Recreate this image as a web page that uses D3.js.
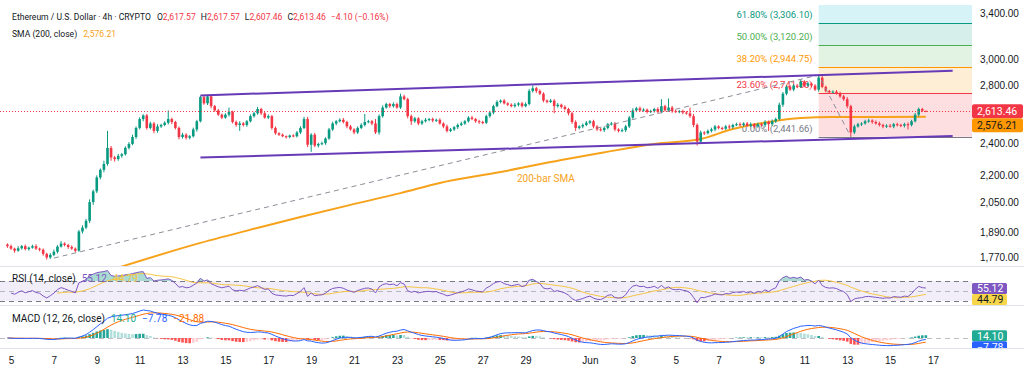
<!DOCTYPE html>
<html>
<head>
<meta charset="utf-8">
<script src="https://cdn.jsdelivr.net/npm/d3@7"></script>
<style>
html, body { margin: 0; padding: 0; background: #fff; }
svg { display: block; font-family: Roboto, "Noto Sans", sans-serif; }
</style>
</head>
<body>
<svg id="chart" width="1024" height="373"></svg>
<script>
// ---- data (4h bars, first bar 2025-05-04 20:00 UTC) ----
const firstOpen = 1830;
const closes = [
  1822, 1810, 1800, 1812, 1822, 1808, 1815, 1822, 1810, 1805,
  1785, 1768, 1780, 1795, 1820, 1835, 1828, 1818, 1810, 1800,
  1895, 1915, 1950, 2050, 2110, 2190, 2235, 2270, 2370, 2310,
  2300, 2320, 2330, 2370, 2395, 2440, 2500, 2560, 2585, 2500,
  2530, 2480, 2510, 2520, 2535, 2560, 2540, 2500, 2440, 2455,
  2435, 2445, 2490, 2545, 2715, 2670, 2720, 2650, 2620, 2590,
  2570, 2590, 2610, 2540, 2520, 2530, 2520, 2545, 2580, 2600,
  2630, 2600, 2570, 2580, 2500, 2465, 2455, 2445, 2440, 2450,
  2445, 2470, 2500, 2560, 2390, 2455, 2385, 2395, 2400, 2430,
  2490, 2530, 2545, 2555, 2540, 2510, 2490, 2470, 2500, 2520,
  2540, 2545, 2530, 2470, 2580, 2640, 2665, 2650, 2665, 2640,
  2720, 2700, 2580, 2545, 2565, 2530, 2545, 2555, 2560, 2550,
  2555, 2530, 2510, 2480, 2490, 2505, 2520, 2530, 2545, 2570,
  2560, 2545, 2540, 2535, 2580, 2605, 2650, 2680, 2690, 2670,
  2660, 2650, 2660, 2670, 2650, 2665, 2760, 2780, 2760, 2740,
  2690, 2680, 2690, 2650, 2660, 2645, 2630, 2600, 2540, 2500,
  2510, 2520, 2535, 2545, 2510, 2490, 2485, 2500, 2525, 2530,
  2490, 2480, 2485, 2510, 2570, 2620, 2635, 2620, 2625, 2610,
  2615, 2630, 2610, 2650, 2620, 2640, 2615, 2610, 2615, 2605,
  2600, 2580, 2520, 2410, 2470, 2465, 2480, 2490, 2510, 2500,
  2495, 2510, 2505, 2520, 2525, 2520, 2530, 2515, 2525, 2510,
  2525, 2520, 2540, 2525, 2545, 2560, 2660, 2740, 2790, 2770,
  2800, 2790, 2830, 2800, 2815, 2800, 2770, 2860, 2790, 2760,
  2750, 2755, 2745, 2720, 2700, 2650, 2470, 2510, 2525, 2530,
  2545, 2550, 2540, 2530, 2520, 2510, 2515, 2510, 2525, 2520,
  2515, 2525, 2520, 2545, 2590, 2630, 2617.57, 2613.46
];
// wick length above / below the body, in dollars
const wickUp = [
  6, 8, 5, 10, 6, 8, 5, 7, 9, 5,
  6, 5, 8, 10, 7, 12, 6, 5, 8, 6,
  8, 12, 10, 15, 10, 12, 8, 20, 110, 12,
  10, 12, 8, 10, 12, 15, 10, 12, 8, 10,
  12, 10, 15, 8, 10, 60, 10, 8, 10, 12,
  10, 8, 12, 10, 10, 12, 5, 10, 8, 10,
  8, 10, 30, 8, 10, 15, 10, 8, 12, 10,
  15, 8, 10, 12, 8, 10, 6, 8, 5, 6,
  8, 10, 12, 15, 15, 10, 12, 8, 10, 8,
  10, 12, 8, 10, 12, 8, 10, 8, 10, 12,
  55, 10, 8, 30, 12, 15, 10, 8, 12, 10,
  20, 12, 10, 12, 10, 8, 10, 12, 8, 10,
  8, 10, 8, 12, 10, 8, 10, 12, 8, 10,
  12, 8, 10, 8, 10, 12, 10, 12, 8, 10,
  8, 10, 12, 8, 10, 12, 15, 20, 10, 12,
  10, 8, 12, 10, 12, 8, 10, 8, 10, 12,
  8, 10, 12, 8, 10, 8, 12, 10, 8, 10,
  10, 8, 12, 10, 12, 15, 10, 12, 10, 8,
  10, 8, 12, 50, 10, 65, 12, 10, 8, 10,
  10, 40, 15, 10, 12, 8, 10, 12, 10, 8,
  8, 10, 12, 8, 10, 12, 8, 10, 12, 8,
  10, 8, 12, 10, 12, 10, 15, 12, 10, 12,
  10, 12, 15, 10, 12, 8, 10, 20, 12, 10,
  8, 10, 12, 10, 12, 15, 10, 12, 10, 8,
  10, 12, 8, 10, 12, 8, 10, 12, 8, 10,
  8, 10, 12, 10, 12, 10, 8, 0
];
const wickDown = [
  8, 6, 10, 5, 7, 6, 8, 5, 6, 8,
  9, 10, 7, 6, 8, 5, 7, 9, 6, 8,
  5, 10, 8, 12, 15, 10, 12, 15, 10, 20,
  15, 10, 12, 8, 10, 8, 12, 10, 15, 12,
  10, 15, 12, 10, 8, 12, 15, 10, 15, 10,
  12, 10, 8, 15, 8, 10, 12, 15, 10, 8,
  10, 8, 12, 10, 12, 40, 10, 12, 8, 10,
  10, 12, 8, 10, 12, 10, 8, 6, 10, 8,
  6, 8, 10, 8, 15, 45, 10, 12, 8, 10,
  8, 10, 12, 8, 10, 12, 8, 12, 10, 8,
  10, 8, 12, 10, 15, 10, 8, 12, 10, 8,
  10, 8, 15, 25, 10, 12, 10, 8, 10, 12,
  10, 8, 12, 10, 8, 10, 12, 8, 10, 8,
  8, 10, 12, 10, 8, 10, 12, 8, 10, 8,
  10, 8, 10, 12, 10, 8, 10, 12, 15, 10,
  12, 10, 8, 50, 10, 12, 10, 15, 12, 20,
  10, 12, 8, 10, 12, 10, 8, 12, 10, 8,
  12, 10, 8, 12, 10, 8, 12, 10, 8, 12,
  8, 10, 12, 10, 8, 10, 12, 8, 10, 12,
  10, 12, 15, 25, 10, 12, 8, 10, 12, 10,
  10, 8, 12, 10, 8, 10, 12, 8, 10, 12,
  8, 10, 12, 45, 10, 12, 10, 15, 12, 10,
  12, 10, 8, 12, 10, 12, 10, 15, 10, 12,
  10, 8, 12, 10, 12, 15, 28, 10, 8, 12,
  8, 10, 12, 8, 10, 12, 10, 8, 12, 10,
  10, 12, 30, 10, 8, 12, 10, 6
];

// 200-bar SMA read at a few bars (its history lies left of the picture)
const smaBars = [30, 54, 71, 82, 96, 110, 121, 138, 155, 166, 181, 194, 203, 213, 222, 231, 241, 257];
const smaValues = [1715, 1838, 1918, 1970, 2035, 2100, 2158, 2222, 2295, 2338, 2395, 2427, 2493, 2540, 2567, 2574, 2574, 2576.21];

// drawings
const channelTimes = ["2025-05-13T20:00Z", "2025-06-17T22:00Z"];
const channelUpper = [2727, 2914];
const channelLower = [2310, 2447];
const trendBars = [13, 227, 236];
const trendPrices = [1765, 2880, 2441.66];
const fibRatios = [0, 0.236, 0.382, 0.5, 0.618, 0.786];
const fibValues = [2441.66, 2741.56, 2944.75, 3120.20, 3306.10, 3588.00];

// axes
const priceTicks = [1770, 1890, 2050, 2200, 2400, 2800, 3000, 3400];
const tickDates = ["2025-05-05", "2025-05-07", "2025-05-09", "2025-05-11", "2025-05-13", "2025-05-15",
  "2025-05-17", "2025-05-19", "2025-05-21", "2025-05-23", "2025-05-25", "2025-05-27", "2025-05-29",
  "2025-06-01", "2025-06-03", "2025-06-05", "2025-06-07", "2025-06-09", "2025-06-11", "2025-06-13",
  "2025-06-15", "2025-06-17"];
const tickLabels = ["5", "7", "9", "11", "13", "15", "17", "19", "21", "23", "25", "27", "29",
  "Jun", "3", "5", "7", "9", "11", "13", "15", "17"];

// legend values
const ohlc = [2617.57, 2617.57, 2607.46, 2613.46];
const change = [-4.10, -0.16];
const smaLast = 2576.21;
const rsiLegend = [55.12, 44.79];
const macdLegend = [14.10, -7.78, -21.88];

// ---- layout ----
const plotRight = 972;
const paneMain = { top: 5, bottom: 266 };
const paneRsi = { top: 267, bottom: 305 };
const paneMacd = { top: 306, bottom: 348 };
const col = {
  up: "#089981", down: "#F23645", text: "#131722", sma: "#F7A21B", smaTag: "#FF9800",
  channel: "#673AB7", trend: "#8C8F99", rsi: "#7E57C2", rsiMa: "#F5C542",
  macd: "#2962FF", signal: "#FF6D00", grid: "#E0E3EB"
};
const fibColors = ["#787B86", "#F23645", "#FF9800", "#4CAF50", "#089981", "#00BCD4"];

const svg = d3.select("#chart");
const fmt = d3.format(",.2f");
const t0 = Date.UTC(2025, 4, 4, 20);
const barTime = i => new Date(t0 + i * 4 * 3600e3);
const n = closes.length;

const bars = closes.map((c, i) => {
  const o = i === 0 ? firstOpen : closes[i - 1];
  return { t: barTime(i), o: o, c: c, h: Math.max(o, c) + wickUp[i], l: Math.min(o, c) - wickDown[i] };
});

const x = d3.scaleUtc()
  .domain([new Date("2025-05-05T00:00Z"), new Date("2025-06-17T00:00Z")])
  .range([11, 933]);
const y = d3.scaleLog().domain([1770, 3400]).range([257, 13]);

function clip(id, pane) {
  svg.append("clipPath").attr("id", id).append("rect")
    .attr("x", 0).attr("y", pane.top).attr("width", plotRight).attr("height", pane.bottom - pane.top);
}
clip("clipMain", paneMain);
clip("clipRsi", paneRsi);
clip("clipMacd", paneMacd);

// ---- main pane ----
const gMain = svg.append("g").attr("clip-path", "url(#clipMain)");
const fibX = x(barTime(227));

// fib zones and levels
for (let k = 0; k < fibValues.length - 1; k++) {
  gMain.append("rect")
    .attr("x", fibX).attr("width", plotRight - fibX)
    .attr("y", y(fibValues[k + 1])).attr("height", y(fibValues[k]) - y(fibValues[k + 1]))
    .attr("fill", fibColors[k + 1]).attr("fill-opacity", 0.16);
}
fibValues.forEach((v, k) => {
  if (y(v) < paneMain.top) return; // level above the pane
  gMain.append("line")
    .attr("x1", fibX).attr("x2", plotRight)
    .attr("y1", Math.round(y(v)) + 0.5).attr("y2", Math.round(y(v)) + 0.5)
    .attr("stroke", fibColors[k]).attr("stroke-width", 1);
  gMain.append("text")
    .attr("x", fibX - 6).attr("y", y(v) - 5)
    .attr("text-anchor", "end").attr("font-size", 9.5)
    .attr("fill", fibColors[k])
    .text(`${(fibRatios[k] * 100).toFixed(2)}% (${fmt(v)})`);
});

// 200-bar SMA
gMain.append("path")
  .datum(smaBars.map((b, i) => [barTime(b), smaValues[i]]))
  .attr("fill", "none").attr("stroke", col.sma).attr("stroke-width", 2)
  .attr("d", d3.line().x(d => x(d[0])).y(d => y(d[1])).curve(d3.curveMonotoneX));
gMain.append("text")
  .attr("x", 517).attr("y", 181.5).attr("font-size", 10)
  .attr("fill", col.sma).text("200-bar SMA");

// candles
const bw = 2.6;
const candle = gMain.append("g").selectAll("g").data(bars).enter().append("g")
  .attr("fill", d => d.c >= d.o ? col.up : col.down)
  .attr("stroke", d => d.c >= d.o ? col.up : col.down);
candle.append("line")
  .attr("x1", d => x(d.t)).attr("x2", d => x(d.t))
  .attr("y1", d => y(d.h)).attr("y2", d => y(d.l))
  .attr("stroke-width", 1);
candle.append("rect")
  .attr("stroke", "none")
  .attr("x", d => x(d.t) - bw / 2).attr("width", bw)
  .attr("y", d => y(Math.max(d.o, d.c)))
  .attr("height", d => Math.max(1, Math.abs(y(d.o) - y(d.c))));

// dashed trend / extension path
gMain.append("path")
  .datum(trendBars.map((b, i) => [barTime(b), trendPrices[i]]))
  .attr("fill", "none").attr("stroke", col.trend).attr("stroke-width", 1)
  .attr("stroke-dasharray", "5,4")
  .attr("d", d3.line().x(d => x(d[0])).y(d => y(d[1])));

// channel
[channelUpper, channelLower].forEach(vals => {
  gMain.append("line")
    .attr("x1", x(new Date(channelTimes[0]))).attr("y1", y(vals[0]))
    .attr("x2", x(new Date(channelTimes[1]))).attr("y2", y(vals[1]))
    .attr("stroke", col.channel).attr("stroke-width", 2);
});

// last price line
const lastY = Math.round(y(ohlc[3])) + 0.5;
gMain.append("line").attr("x1", 0).attr("x2", plotRight).attr("y1", lastY).attr("y2", lastY)
  .attr("stroke", col.down).attr("stroke-width", 1).attr("stroke-dasharray", "1,2");

// price axis
const yAxis = svg.append("g").attr("transform", `translate(${plotRight},0)`)
  .call(d3.axisRight(y).tickValues(priceTicks).tickFormat(fmt).tickSize(0).tickPadding(8));
yAxis.select(".domain").remove();
yAxis.selectAll("text").attr("font-size", 10).attr("fill", col.text).attr("font-family", null);

function tag(yc, txt, bg, fg, w) {
  const g = svg.append("g");
  g.append("rect").attr("x", plotRight).attr("y", yc - 7).attr("width", w).attr("height", 14)
    .attr("rx", 2).attr("fill", bg);
  g.append("text").attr("x", plotRight + 5).attr("y", yc + 3.6).attr("font-size", 10.5)
    .attr("fill", fg).text(txt);
}
const tagPrice = y(ohlc[3]);
tag(tagPrice, fmt(ohlc[3]), col.down, "#fff", 51);
tag(Math.max(y(smaLast), tagPrice + 14), fmt(smaLast), col.smaTag, col.text, 51);

// ---- RSI pane ----
const rsi = new Array(n).fill(null);
{
  let g = 0, l = 0;
  for (let i = 1; i <= 14; i++) {
    const d = closes[i] - closes[i - 1];
    g += Math.max(d, 0) / 14; l += Math.max(-d, 0) / 14;
  }
  for (let i = 1; i < n; i++) {
    const d = closes[i] - closes[i - 1];
    g = (g * 13 + Math.max(d, 0)) / 14;
    l = (l * 13 + Math.max(-d, 0)) / 14;
    rsi[i] = l === 0 ? 100 : 100 - 100 / (1 + g / l);
  }
}
const rsiMa = rsi.map((v, i) => i >= 14 ? d3.mean(rsi.slice(i - 13, i + 1)) : null);

const yR = d3.scaleLinear().domain([30, 70]).range([301, 281]);
const gRsi = svg.append("g").attr("clip-path", "url(#clipRsi)");
gRsi.append("rect").attr("x", 0).attr("width", plotRight)
  .attr("y", yR(70)).attr("height", yR(30) - yR(70))
  .attr("fill", col.rsi).attr("fill-opacity", 0.1);
[[70, 1], [50, 0.5], [30, 1]].forEach(([lv, op]) => {
  gRsi.append("line").attr("x1", 0).attr("x2", plotRight)
    .attr("y1", Math.round(yR(lv)) + 0.5).attr("y2", Math.round(yR(lv)) + 0.5)
    .attr("stroke", "#787B86").attr("stroke-opacity", op).attr("stroke-dasharray", "5,4");
});
const rsiPts = rsi.map((v, i) => [barTime(i), v]).filter(d => d[1] !== null);
gRsi.append("path").datum(rsiPts)
  .attr("fill", col.up).attr("fill-opacity", 0.35)
  .attr("d", d3.area().x(d => x(d[0])).y0(yR(70)).y1(d => yR(Math.max(d[1], 70))));
gRsi.append("path").datum(rsiPts)
  .attr("fill", col.down).attr("fill-opacity", 0.3)
  .attr("d", d3.area().x(d => x(d[0])).y0(yR(30)).y1(d => yR(Math.min(d[1], 30))));
gRsi.append("path").datum(rsiMa.map((v, i) => [barTime(i), v]).filter(d => d[1] !== null))
  .attr("fill", "none").attr("stroke", col.rsiMa).attr("stroke-width", 1)
  .attr("d", d3.line().x(d => x(d[0])).y(d => yR(d[1])));
gRsi.append("path").datum(rsiPts)
  .attr("fill", "none").attr("stroke", col.rsi).attr("stroke-width", 1)
  .attr("d", d3.line().x(d => x(d[0])).y(d => yR(d[1])));

svg.append("clipPath").attr("id", "clipRsiT").append("rect")
  .attr("x", plotRight).attr("y", paneRsi.top).attr("width", 60).attr("height", paneRsi.bottom - paneRsi.top);
svg.append("clipPath").attr("id", "clipMacdT").append("rect")
  .attr("x", plotRight).attr("y", paneMacd.top).attr("width", 60).attr("height", paneMacd.bottom - paneMacd.top);
function smallTag(yc, txt, bg, fg, clipId) {
  const g = svg.append("g").attr("clip-path", `url(#${clipId})`);
  g.append("rect").attr("x", plotRight).attr("y", yc - 5.5).attr("width", 35).attr("height", 11)
    .attr("rx", 1.5).attr("fill", bg);
  g.append("text").attr("x", plotRight + 5).attr("y", yc + 4).attr("font-size", 10.5)
    .attr("fill", fg).text(txt);
}
const rTag = yR(rsiLegend[0]);
smallTag(rTag, rsiLegend[0].toFixed(2), col.rsi, "#fff", "clipRsiT");
smallTag(Math.max(yR(rsiLegend[1]), rTag + 11), rsiLegend[1].toFixed(2), "#F7D64A", col.text, "clipRsiT");

// ---- MACD pane ----
const ema = (arr, len) => {
  const k = 2 / (len + 1), out = [];
  arr.forEach((v, i) => out.push(i ? v * k + out[i - 1] * (1 - k) : v));
  return out;
};
const e12 = ema(closes, 12), e26 = ema(closes, 26);
const macd = e12.map((v, i) => v - e26[i]);
const signal = ema(macd, 9);
const hist = macd.map((v, i) => v - signal[i]);

const yM = d3.scaleLinear().domain([0, d3.max(macd)]).range([338, 310]);
const gMacd = svg.append("g").attr("clip-path", "url(#clipMacd)");
gMacd.append("line").attr("x1", 0).attr("x2", plotRight).attr("y1", 338.5).attr("y2", 338.5)
  .attr("stroke", "#787B86").attr("stroke-opacity", 0.5).attr("stroke-dasharray", "5,4");
gMacd.append("g").selectAll("rect").data(hist).enter().append("rect")
  .attr("x", (d, i) => x(barTime(i)) - bw / 2).attr("width", bw)
  .attr("y", d => Math.min(yM(0), yM(d)))
  .attr("height", d => Math.abs(yM(d) - yM(0)))
  .attr("fill", (d, i) => {
    const prev = i ? hist[i - 1] : d;
    if (d >= 0) return d >= prev ? "#26A69A" : "#B2DFDB";
    return d < prev ? "#FF5252" : "#FFCDD2";
  });
[[signal, col.signal], [macd, col.macd]].forEach(([arr, c]) => {
  gMacd.append("path").datum(arr)
    .attr("fill", "none").attr("stroke", c).attr("stroke-width", 1)
    .attr("d", d3.line().x((d, i) => x(barTime(i))).y(d => yM(d)));
});
const mTag = yM(macdLegend[0]);
smallTag(mTag, macdLegend[0].toFixed(2), "#22AB94", "#fff", "clipMacdT");
smallTag(Math.max(yM(macdLegend[1]), mTag + 11), d3.format(".2f")(macdLegend[1]), col.macd, "#fff", "clipMacdT");

// ---- separators ----
[paneMain.bottom, paneRsi.bottom, paneMacd.bottom].forEach(v => {
  svg.append("line").attr("x1", 0).attr("x2", 1024).attr("y1", v + 0.5).attr("y2", v + 0.5)
    .attr("stroke", col.grid).attr("stroke-width", 1);
});

// ---- time axis ----
const xAxis = svg.append("g").attr("transform", "translate(0,357)")
  .call(d3.axisBottom(x)
    .tickValues(tickDates.map(d => new Date(d + "T00:00Z")))
    .tickFormat((d, i) => tickLabels[i])
    .tickSize(0).tickPadding(0));
xAxis.select(".domain").remove();
xAxis.selectAll("text").attr("font-size", 10).attr("fill", col.text).attr("font-family", null).attr("dy", "0.71em");

// ---- legends ----
const red = col.down;
const head = svg.append("text").attr("x", 12).attr("y", 20).attr("font-size", 8.6).attr("fill", col.text);
head.append("tspan").text("Ethereum / U.S. Dollar · 4h · CRYPTO");
["O", "H", "L", "C"].forEach((k, i) => {
  head.append("tspan").attr("dx", i ? 5 : 6).text(k);
  head.append("tspan").attr("fill", red).text(fmt(ohlc[i]));
});
head.append("tspan").attr("dx", 5).attr("fill", red)
  .text(`${d3.format(".2f")(change[0])} (${d3.format(".2f")(change[1])}%)`);

const smaLeg = svg.append("text").attr("x", 12).attr("y", 37).attr("font-size", 8.6).attr("fill", col.text);
smaLeg.append("tspan").text("SMA (200, close)");
smaLeg.append("tspan").attr("dx", 6).attr("fill", col.sma).text(fmt(smaLast));

const rsiLeg = svg.append("text").attr("x", 12).attr("y", 281.5).attr("font-size", 10).attr("fill", col.text);
rsiLeg.append("tspan").text("RSI (14, close)");
rsiLeg.append("tspan").attr("dx", 6).attr("fill", col.rsi).text(rsiLegend[0].toFixed(2));
rsiLeg.append("tspan").attr("dx", 6).attr("fill", col.rsiMa).text(rsiLegend[1].toFixed(2));

const macdLeg = svg.append("text").attr("x", 12).attr("y", 321.5).attr("font-size", 10).attr("fill", col.text);
macdLeg.append("tspan").text("MACD (12, 26, close)");
[["#22AB94", 0], [col.macd, 1], [col.signal, 2]].forEach(([c, i]) => {
  macdLeg.append("tspan").attr("dx", 6).attr("fill", c).text(d3.format(".2f")(macdLegend[i]));
});
</script>
</body>
</html>
